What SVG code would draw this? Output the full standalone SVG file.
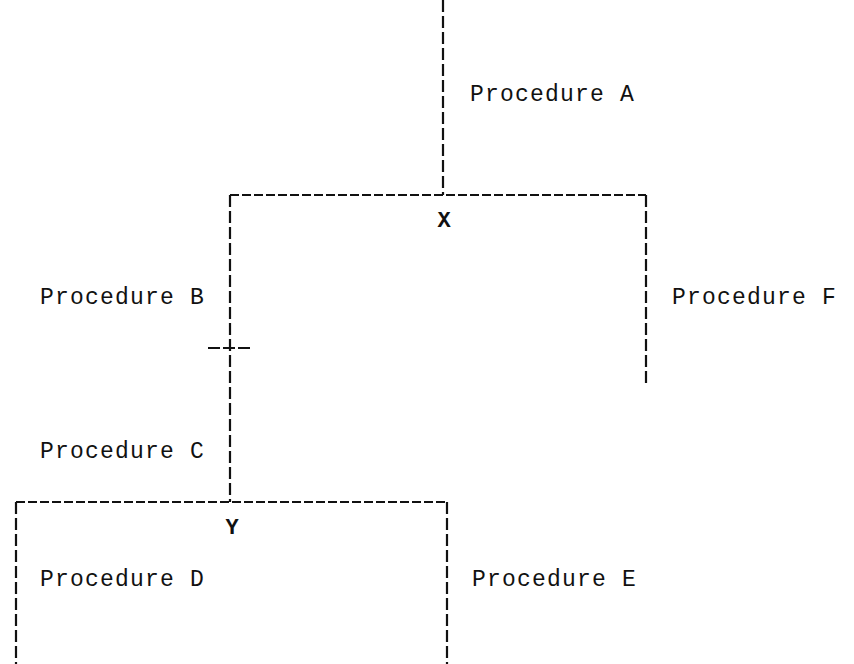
<svg xmlns="http://www.w3.org/2000/svg" width="854" height="664" viewBox="0 0 854 664">
<style>
.ln{fill:none;stroke:#111;stroke-width:2.2}
.v{stroke-dasharray:12 4}
.h{stroke-dasharray:9 3}
.t{font-family:"Liberation Mono","DejaVu Sans Mono",monospace;font-size:23px;fill:#111;letter-spacing:1.2px}
.b{font-family:"Liberation Mono","DejaVu Sans Mono",monospace;font-size:22px;font-weight:bold;fill:#111}
</style>
<rect width="854" height="664" fill="#fff"/>
<g id="connectors">
<path class="ln v" d="M443 0 V195"/>
<path class="ln h" d="M230 195 H646"/>
<path class="ln v" d="M230 195 V502"/>
<path class="ln v" d="M646 195 V384"/>
<path class="ln" d="M208 348 H250" stroke-dasharray="12 3 12 3 12"/>
<path class="ln h" d="M16 502 H447"/>
<path class="ln v" d="M16 502 V664"/>
<path class="ln v" d="M447 502 V664"/>
</g>
<g id="procA"><text class="t" x="470" y="101">Procedure A</text></g>
<g id="nodeX"><text class="b" x="444" y="227" text-anchor="middle">X</text></g>
<g id="procB"><text class="t" x="40" y="304">Procedure B</text></g>
<g id="procF"><text class="t" x="672" y="304">Procedure F</text></g>
<g id="procC"><text class="t" x="40" y="458">Procedure C</text></g>
<g id="nodeY"><text class="b" x="232" y="534" text-anchor="middle">Y</text></g>
<g id="procD"><text class="t" x="40" y="586">Procedure D</text></g>
<g id="procE"><text class="t" x="472" y="586">Procedure E</text></g>
</svg>
